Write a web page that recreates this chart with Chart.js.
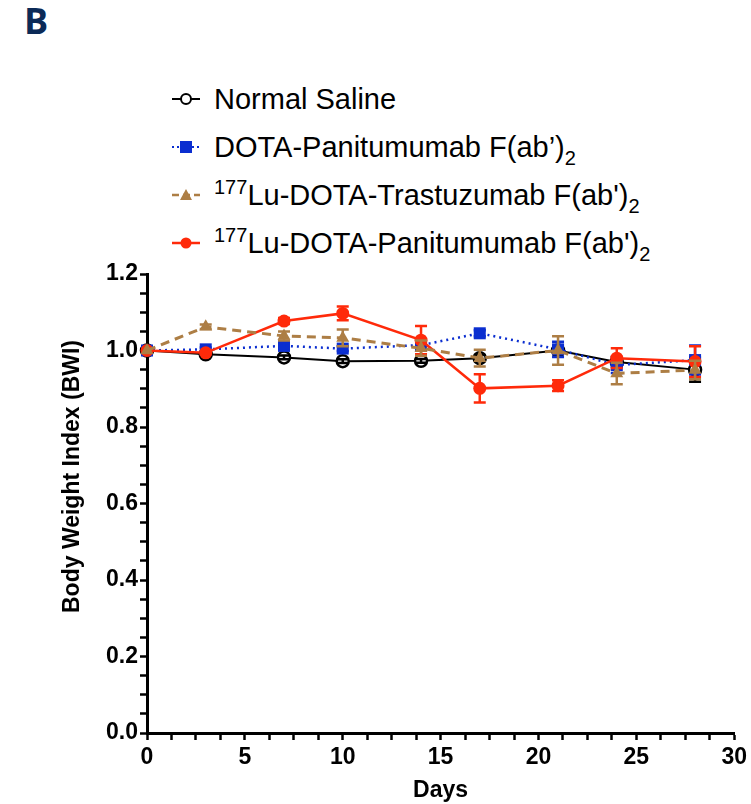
<!DOCTYPE html>
<html>
<head>
<meta charset="utf-8">
<script src="https://cdn.jsdelivr.net/npm/chart.js@4.4.0/dist/chart.umd.min.js"></script>
<style>
  body { margin: 0; background: #fff; }
  #wrap { position: relative; width: 751px; height: 804px; }
  #panel { position: absolute; left: 24px; top: -4px; font: bold 36px "Open Sans", sans-serif; color: #0b2a57; }
  .leg { position: absolute; left: 170px; height: 34px; line-height: 34px; white-space: nowrap;
         font: 29px "Liberation Sans", Arial, sans-serif; color: #000; }
  .leg svg { vertical-align: middle; margin-right: 12px; position: relative; top: -2px; }
  .leg sup, .leg sub { font-size: 20px; vertical-align: baseline; position: relative; }
  .leg sup { top: -11px; }
  .leg sub { top: 8px; }
  canvas { position: absolute; left: 0; top: 0; }
</style>
</head>
<body>
<div id="wrap">
  <div id="panel">B</div>
  <div class="leg" style="top:83px">
    <svg width="32" height="20"><line x1="2" y1="10" x2="30" y2="10" stroke="#000" stroke-width="2"/><circle cx="16" cy="10" r="5" fill="#fff" stroke="#000" stroke-width="2"/></svg>Normal Saline
  </div>
  <div class="leg" style="top:131px">
    <svg width="32" height="20"><line x1="2" y1="10" x2="30" y2="10" stroke="#0b2ed0" stroke-width="2" stroke-dasharray="2,3"/><rect x="10" y="4" width="12" height="12" fill="#0b2ed0"/></svg>DOTA-Panitumumab F(ab’)<sub>2</sub>
  </div>
  <div class="leg" style="top:179px">
    <svg width="32" height="20"><line x1="2" y1="10" x2="30" y2="10" stroke="#ad7e45" stroke-width="2.5" stroke-dasharray="7,4"/><polygon points="16,4 22,15 10,15" fill="#ad7e45"/></svg><sup>177</sup>Lu-DOTA-Trastuzumab F(ab')<sub>2</sub>
  </div>
  <div class="leg" style="top:227px">
    <svg width="32" height="20"><line x1="2" y1="10" x2="30" y2="10" stroke="#ff2a0a" stroke-width="2.5"/><circle cx="16" cy="10" r="5.5" fill="#ff2a0a"/></svg><sup>177</sup>Lu-DOTA-Panitumumab F(ab')<sub>2</sub>
  </div>
  <canvas id="chart" width="751" height="804"></canvas>
</div>
<script>
// days of measurement
const days = [0, 3, 7, 10, 14, 17, 21, 24, 28];

// mean body weight index per group, with error bars (SEM)
const salineMean = [1.0, 0.990, 0.982, 0.972, 0.973, 0.980, 1.000, 0.970, 0.950];
const salineErr  = [0, 0.004, 0.005, 0.005, 0.005, 0.008, 0.010, 0.012, 0.032];
const dotaPanMean = [1.0, 1.003, 1.012, 1.005, 1.014, 1.045, 1.003, 0.962, 0.975];
const dotaPanErr  = [0, 0.005, 0.006, 0.006, 0.008, 0.008, 0.020, 0.021, 0.038];
const luTrasMean = [1.0, 1.062, 1.038, 1.033, 1.006, 0.980, 1.000, 0.940, 0.949];
const luTrasErr  = [0, 0.006, 0.012, 0.022, 0.020, 0.022, 0.037, 0.028, 0.024];
const luPanMean = [1.0, 0.994, 1.077, 1.097, 1.027, 0.901, 0.908, 0.980, 0.971];
const luPanErr  = [0, 0.004, 0.008, 0.018, 0.037, 0.037, 0.014, 0.026, 0.040];

const xTicks = [0, 5, 10, 15, 20, 25, 30];
const yTicks = [0.0, 0.2, 0.4, 0.6, 0.8, 1.0, 1.2];
const yTitle = 'Body Weight Index (BWI)';

const toPoints = (mean) => days.map((d, i) => ({ x: d, y: mean[i] }));

const tickFont = { family: '"Liberation Sans", Arial, sans-serif', size: 23, weight: 'bold' };

const errorBars = {
  id: 'errorBars',
  afterDatasetDraw(chart, args) {
    const ds = chart.data.datasets[args.index];
    if (!ds.errors) return;
    const { ctx, scales: { x, y } } = chart;
    ctx.save();
    ctx.setLineDash([]);
    ctx.strokeStyle = ds.borderColor;
    ctx.lineWidth = 2.5;
    ds.data.forEach((p, i) => {
      const e = ds.errors[i];
      if (!e) return;
      const px = x.getPixelForValue(p.x);
      const top = y.getPixelForValue(p.y + e);
      const bot = y.getPixelForValue(p.y - e);
      ctx.beginPath();
      ctx.moveTo(px, top); ctx.lineTo(px, bot);
      ctx.moveTo(px - 6, top); ctx.lineTo(px + 6, top);
      ctx.moveTo(px - 6, bot); ctx.lineTo(px + 6, bot);
      ctx.stroke();
    });
    ctx.restore();
  }
};

// y title sits a bit above the middle of the axis in the original
const yTitlePlugin = {
  id: 'yTitle',
  afterDraw(chart) {
    const { ctx, chartArea } = chart;
    ctx.save();
    ctx.translate(73, (chartArea.top + chartArea.bottom) / 2 - 27);
    ctx.rotate(-Math.PI / 2);
    ctx.font = 'bold 23px "Liberation Sans", Arial, sans-serif';
    ctx.fillStyle = '#000';
    ctx.textAlign = 'center';
    ctx.textBaseline = 'middle';
    ctx.fillText(yTitle, 0, 0);
    ctx.restore();
  }
};

new Chart(document.getElementById('chart'), {
  type: 'line',
  data: {
    datasets: [
      {
        label: 'Normal Saline', data: toPoints(salineMean), errors: salineErr,
        borderColor: '#000', backgroundColor: '#fff', borderWidth: 2,
        pointStyle: 'circle', pointRadius: 6, pointBorderWidth: 2.5,
        pointBackgroundColor: '#fff', pointBorderColor: '#000', order: 3, clip: false
      },
      {
        label: 'DOTA-Panitumumab F(ab’)2', data: toPoints(dotaPanMean), errors: dotaPanErr,
        borderColor: '#0b2ed0', backgroundColor: '#0b2ed0', borderWidth: 2.5, borderDash: [2, 4],
        pointStyle: 'rect', pointRadius: 8.5, pointBorderWidth: 0, order: 2, clip: false
      },
      {
        label: '177Lu-DOTA-Trastuzumab F(ab\')2', data: toPoints(luTrasMean), errors: luTrasErr,
        borderColor: '#ad7e45', backgroundColor: '#ad7e45', borderWidth: 3, borderDash: [9, 6],
        pointStyle: 'triangle', pointRadius: 7.5, pointBorderWidth: 0, order: 0, clip: false
      },
      {
        label: '177Lu-DOTA-Panitumumab F(ab\')2', data: toPoints(luPanMean), errors: luPanErr,
        borderColor: '#ff2a0a', backgroundColor: '#ff2a0a', borderWidth: 2.5,
        pointStyle: 'circle', pointRadius: 6.5, pointBorderWidth: 0, order: 1, clip: false
      }
    ]
  },
  options: {
    responsive: false,
    animation: false,
    layout: { padding: { left: 50, top: 274, right: 16, bottom: 0 } },
    plugins: { legend: { display: false }, tooltip: { enabled: false } },
    elements: { line: { tension: 0 } },
    scales: {
      x: {
        type: 'linear', min: 0, max: 30,
        afterFit: (s) => { s.height = 71; },
        border: { color: '#000', width: 3 },
        grid: { drawOnChartArea: false, drawTicks: true, tickLength: 7, tickWidth: 2.5, tickColor: '#000' },
        ticks: {
          stepSize: 1.25, autoSkip: false, maxRotation: 0, padding: 4, color: '#000', font: tickFont,
          callback: (v) => (xTicks.includes(v) ? String(v) : '')
        },
        title: { display: true, text: 'Days', color: '#000', font: tickFont, padding: { top: 0, bottom: 0 } }
      },
      y: {
        min: 0, max: 1.2,
        afterFit: (s) => { s.width = 97; },
        border: { color: '#000', width: 3 },
        grid: { drawOnChartArea: false, drawTicks: true, tickLength: 7, tickWidth: 2.5, tickColor: '#000' },
        ticks: {
          stepSize: 0.05, maxTicksLimit: 100, autoSkip: false, padding: 2, color: '#000', font: tickFont,
          callback: (v) => (yTicks.some(t => Math.abs(t - v) < 1e-6) ? v.toFixed(1) : '')
        }
      }
    }
  },
  plugins: [errorBars, yTitlePlugin]
});
</script>
</body>
</html>
